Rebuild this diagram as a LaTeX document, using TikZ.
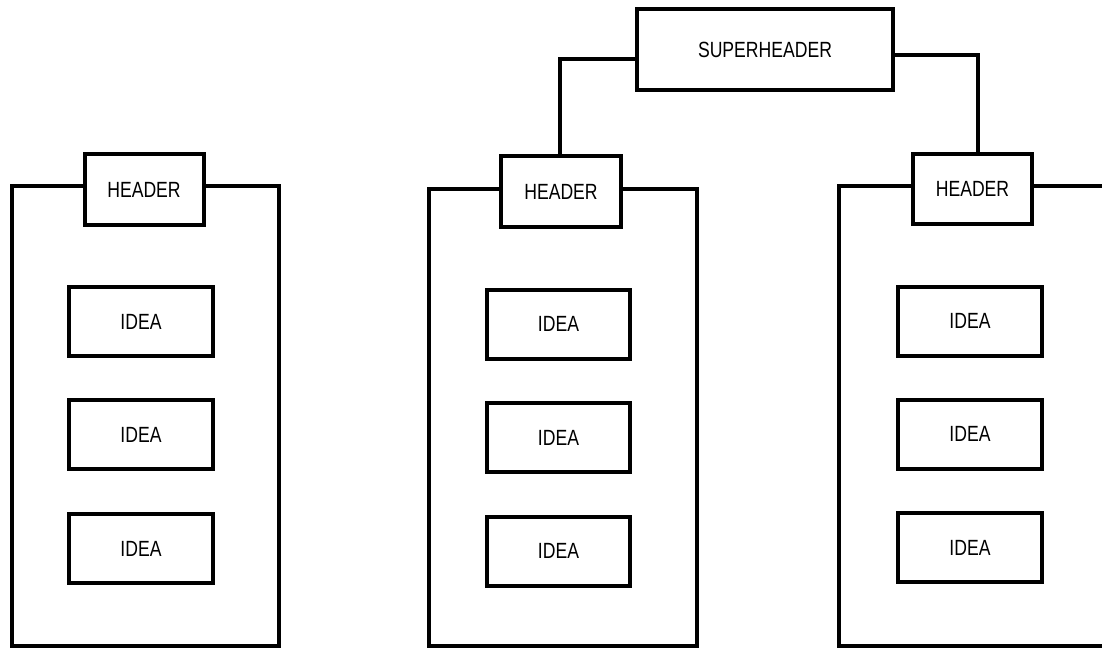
\documentclass[tikz,border=0pt]{standalone}
\usepackage{graphicx}
\usepackage{fontspec}
\setmainfont{Liberation Sans}
\newcommand{\narrowtext}[1]{\scalebox{0.8}[1]{#1}}
\begin{document}
\begin{tikzpicture}[x=1pt,y=-1pt,
  box/.style={draw=black, line width=4pt, inner sep=0pt, fill=white,
    font=\fontsize{22}{26}\selectfont},
  headbox/.style={box, minimum width=119pt, minimum height=71pt},
  ideabox/.style={box, minimum width=144pt, minimum height=69pt},
  frame/.style={draw=black, line width=4pt, line join=miter},
  link/.style={draw=black, line width=3.5pt, line join=miter}]
\useasboundingbox (0,0) rectangle (1102,648);
\clip (0,0) rectangle (1102,648);

% top-level heading
\node[box, minimum width=256pt, minimum height=81pt] (sup) at (765,49.5) {\narrowtext{SUPERHEADER}};

% group headings
\node[headbox] (lh) at (144,189.5) {\narrowtext{HEADER}};
\node[headbox, minimum width=120pt] (mh) at (561,191.5) {\narrowtext{HEADER}};
\node[headbox, minimum height=70pt] (rh) at (972.5,189) {\narrowtext{HEADER}};

% corners of the group frames
\coordinate (lfTL) at (12,186);   \coordinate (lfBL) at (12,646);
\coordinate (lfBR) at (279,646);  \coordinate (lfTR) at (279,186);
\coordinate (mfTL) at (429,189);  \coordinate (mfBL) at (429,646);
\coordinate (mfBR) at (697,646);  \coordinate (mfTR) at (697,189);
\coordinate (rfTL) at (839,186);  \coordinate (rfBL) at (839,646);
\coordinate (rfBR) at (1110,646); \coordinate (rfTR) at (1110,186);

% group frames
\path[frame] (lh.west |- lfTL) -- (lfTL) -- (lfBL) -- (lfBR) -- (lfTR) -- (lh.east |- lfTR);
\path[frame] (mh.west |- mfTL) -- (mfTL) -- (mfBL) -- (mfBR) -- (mfTR) -- (mh.east |- mfTR);
\path[frame] (rh.west |- rfTL) -- (rfTL) -- (rfBL) -- (rfBR) -- (rfTR) -- (rh.east |- rfTR);

% connectors from the top heading
\coordinate (kl) at (560,59);
\coordinate (kr) at (978,55);
\path[link] (sup.west |- kl) -- (kl) -- (kl |- mh.north);
\path[link] (sup.east |- kr) -- (kr) -- (kr |- rh.north);

% ideas, left group
\node[ideabox] (l1) at (141,321.5) {\narrowtext{IDEA}};
\node[ideabox] (l2) at (141,434.5) {\narrowtext{IDEA}};
\node[ideabox] (l3) at (141,548.5) {\narrowtext{IDEA}};

% ideas, middle group
\node[ideabox, minimum width=143pt] (m1) at (558.5,324) {\narrowtext{IDEA}};
\node[ideabox, minimum width=143pt] (m2) at (558.5,437.5) {\narrowtext{IDEA}};
\node[ideabox, minimum width=143pt] (m3) at (558.5,551) {\narrowtext{IDEA}};

% ideas, right group
\node[ideabox] (r1) at (970,321) {\narrowtext{IDEA}};
\node[ideabox] (r2) at (970,434) {\narrowtext{IDEA}};
\node[ideabox] (r3) at (970,547.5) {\narrowtext{IDEA}};
\end{tikzpicture}
\end{document}
